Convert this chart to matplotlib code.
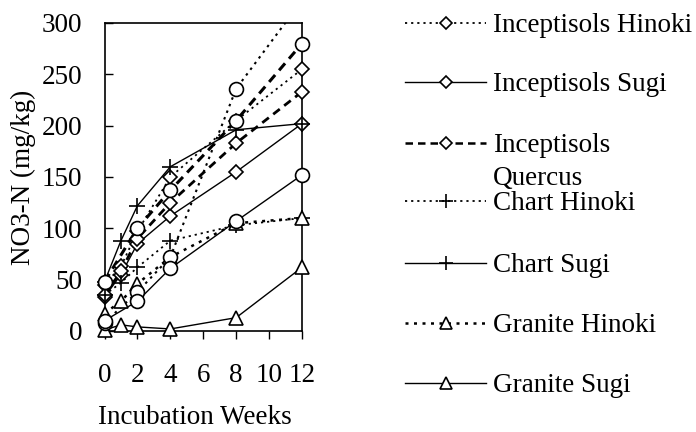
import numpy as np
import matplotlib
matplotlib.use("Agg")
import matplotlib.pyplot as plt
from matplotlib.lines import Line2D

plt.rcParams['font.family'] = ['Liberation Serif', 'DejaVu Serif']

# sampling times (weeks)
weeks = [0, 1, 2, 4, 8, 12]
weeks_c = [0, 2, 4, 8, 12]

# NO3-N, mg/kg
inc_hinoki = [45, 63, 97, 150, 205, 255]
inc_sugi = [33, 55, 85, 112, 155, 202]
inc_quercus = [35, 58, 90, 125, 183, 233]
chart_hinoki = [35, 47, 62, 88, 103, 110]
chart_sugi = [48, 88, 122, 160, 196, 202]
granite_hinoki = [17, 29, 46, 72, 105, 110]
granite_sugi = [1, 6, 4, 2, 13, 62]
# circle series (no legend entry)
circ_dotted = [8, 38, 72, 236, 322]
circ_dashed = [48, 100, 137, 205, 280]
circ_solid = [10, 29, 61, 107, 152]

W, H = 696, 432
FS = 19.5
fig = plt.figure(figsize=(W / 100, H / 100), dpi=100)
ax = fig.add_axes([104.5 / W, 1 - 331 / H, 197.5 / W, 308 / H])

dotted = (0, (1.2, 2.2))
dashed = (0, (3, 2))

series = [
    # x, y, label, marker, linestyle, lw, ms
    (weeks, inc_hinoki, "Inceptisols Hinoki", "D", dotted, 1.3, 7),
    (weeks, inc_sugi, "Inceptisols Sugi", "D", "-", 1.0, 7),
    (weeks, inc_quercus, "Inceptisols\nQuercus", "D", dashed, 2.0, 7),
    (weeks, chart_hinoki, "Chart Hinoki", "+", dotted, 1.3, 11),
    (weeks, chart_sugi, "Chart Sugi", "+", "-", 1.0, 11),
    (weeks, granite_hinoki, "Granite Hinoki", "^", dotted, 1.8, 10),
    (weeks, granite_sugi, "Granite Sugi", "^", "-", 1.0, 10),
    (weeks_c, circ_dotted, None, "o", dotted, 1.5, 10),
    (weeks_c, circ_dashed, None, "o", dashed, 2.2, 10),
    (weeks_c, circ_solid, None, "o", "-", 1.0, 10),
]

ymax = 300
for x, y, label, mk, ls, lw, ms in series:
    x = np.asarray(x)
    y = np.asarray(y)
    ax.plot(x, y, color="black", linestyle=ls, linewidth=lw)
    inside = y <= ymax
    ax.plot(x[inside], y[inside], linestyle="none", marker=mk, ms=ms,
            mfc="white", mec="black", mew=1.2, clip_on=False, zorder=3)

ax.set_xlim(0, 12)
ax.set_ylim(0, ymax)
ax.set_xticks([0, 2, 4, 6, 8, 10, 12])
ax.set_yticks([0, 50, 100, 150, 200, 250, 300])
ax.tick_params(axis="x", direction="out", length=6, width=1, pad=17, labelsize=FS)
ax.tick_params(axis="y", direction="in", length=6, width=1, pad=16, labelsize=FS)
for s in ax.spines.values():
    s.set_linewidth(1.2)

ax.set_ylabel("NO3-N (mg/kg)", fontsize=FS, va="center")
ax.yaxis.set_label_coords((23 - 104.5) / 197.5, 0.5)
ax.set_xlabel("Incubation Weeks", fontsize=FS, va="baseline")
ax.xaxis.set_label_coords((195 - 104.5) / 197.5, (331 - 424) / 308)

# legend drawn by hand on the right
rows = [23, 82, 143, 201, 263, 323, 383]
for (x, y, label, mk, ls, lw, ms), ry in zip(series[:7], rows):
    fy = 1 - ry / H
    fig.add_artist(Line2D([405 / W, 486 / W], [fy, fy], transform=fig.transFigure,
                          color="black", linestyle=ls, linewidth=min(lw, 1.8)))
    fig.add_artist(Line2D([445.5 / W], [fy], transform=fig.transFigure,
                          marker=mk, ms=ms * 0.9, mfc="white", mec="black", mew=1.2))
    for i, part in enumerate(label.split("\n")):
        fig.text(493 / W, 1 - (ry + 8.7 + i * 33) / H, part, fontsize=FS, va="baseline", ha="left")

fig.savefig("out.png", dpi=100)
